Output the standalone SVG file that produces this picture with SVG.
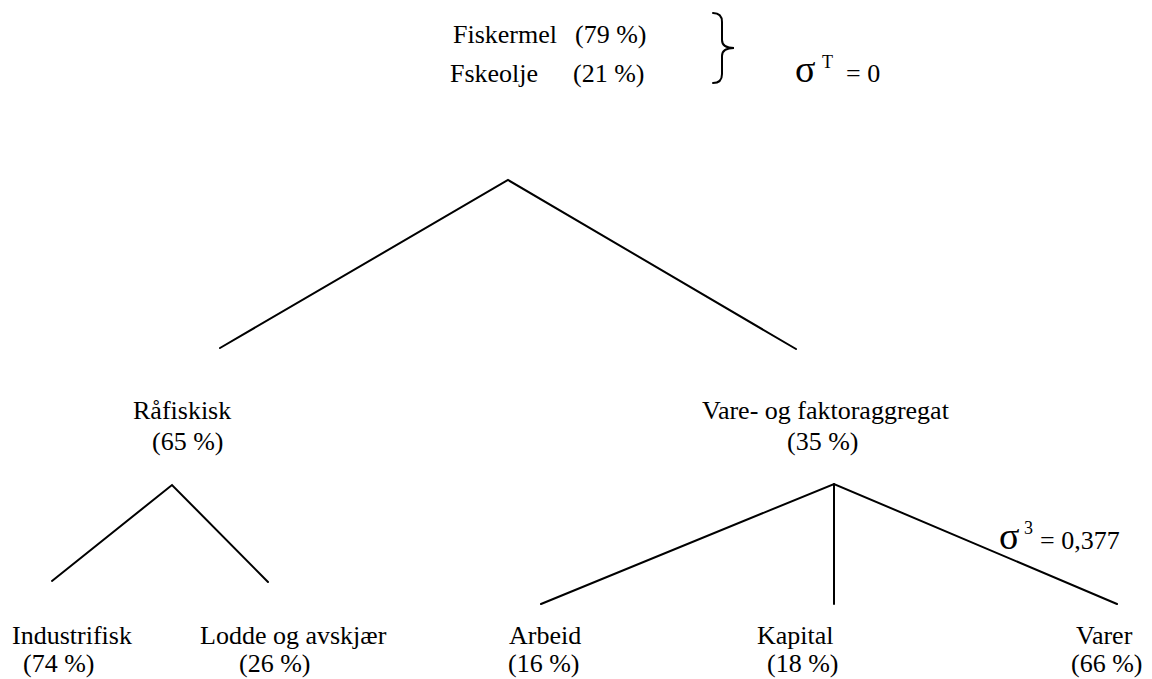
<svg xmlns="http://www.w3.org/2000/svg" width="1152" height="679" viewBox="0 0 1152 679">
  <style>
    .t { font-family: "Liberation Serif", "Times New Roman", serif; font-size: 26px; fill: #000; }
    .sig { font-family: "Liberation Serif", "Times New Roman", serif; font-size: 38px; fill: #000; }
    .sup { font-family: "Liberation Serif", "Times New Roman", serif; font-size: 18px; fill: #000; }
    .ln { stroke: #000; stroke-width: 2; fill: none; stroke-linecap: round; stroke-linejoin: miter; }
  </style>
  <rect width="1152" height="679" fill="#fff"/>

  <!-- top: output shares and substitution elasticity -->
  <g id="output">
    <text class="t" x="453" y="43">Fiskermel</text>
    <text class="t" x="575" y="43">(79 %)</text>
    <text class="t" x="450" y="82">Fskeolje</text>
    <text class="t" x="573" y="82">(21 %)</text>
    <path class="ln" d="M713,13 Q722,13 722,22 L722,40 Q722,48 734,48 Q722,48 722,56 L722,74 Q722,83 713,83"/>
    <text class="sig" x="795" y="82">σ</text>
    <text class="sup" x="822" y="68">T</text>
    <text class="t" x="846" y="82">= 0</text>
  </g>

  <!-- connectors -->
  <g id="connectors">
    <polyline class="ln" points="220,348 508,180 796,349"/>
    <polyline class="ln" points="52,581 172,485 268,582"/>
    <polyline class="ln" points="541,604 834,484 1117,604"/>
    <line class="ln" x1="834" y1="484" x2="834" y2="604"/>
  </g>

  <g id="raafisk">
    <text class="t" x="133" y="419">Råfiskisk</text>
    <text class="t" x="152" y="450">(65 %)</text>
  </g>

  <g id="aggregat">
    <text class="t" x="702" y="419">Vare- og faktoraggregat</text>
    <text class="t" x="787" y="450">(35 %)</text>
    <text class="sig" x="999" y="549">σ</text>
    <text class="sup" x="1024" y="534">3</text>
    <text class="t" x="1040" y="549">= 0,377</text>
  </g>

  <g id="industrifisk">
    <text class="t" x="12" y="644">Industrifisk</text>
    <text class="t" x="23" y="672">(74 %)</text>
  </g>

  <g id="lodde">
    <text class="t" x="200" y="644">Lodde og avskjær</text>
    <text class="t" x="239" y="672">(26 %)</text>
  </g>

  <g id="arbeid">
    <text class="t" x="509" y="644">Arbeid</text>
    <text class="t" x="508" y="672">(16 %)</text>
  </g>

  <g id="kapital">
    <text class="t" x="757" y="644">Kapital</text>
    <text class="t" x="767" y="672">(18 %)</text>
  </g>

  <g id="varer">
    <text class="t" x="1076" y="644">Varer</text>
    <text class="t" x="1071" y="672">(66 %)</text>
  </g>
</svg>
